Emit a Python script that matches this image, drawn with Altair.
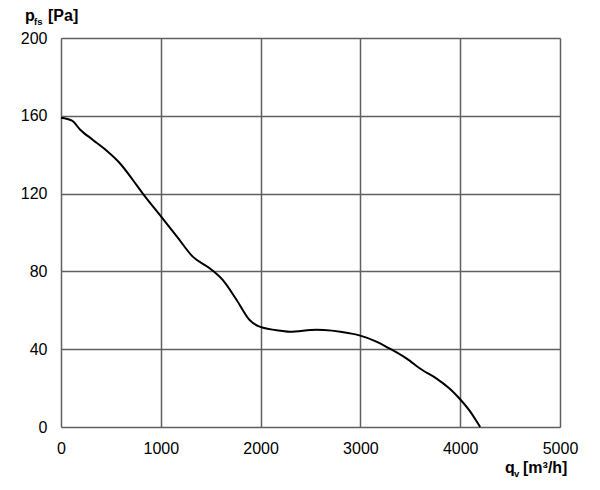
import altair as alt
import pandas as pd

flow = [0, 110, 190, 320, 450, 590, 720, 820, 990, 1160, 1320, 1490, 1620, 1760, 1890, 1990,
        2220, 2290, 2560, 2890, 2990, 3160, 3290, 3460, 3620, 3760, 3890, 3990, 4090, 4200]
pressure = [159, 157.5, 153, 147.6, 142.4, 135.6, 127, 120, 109, 98, 87.6, 81.6, 75.6, 65.3, 55, 51.6,
            49.4, 49, 50, 48.2, 47.1, 43.9, 40.4, 35.3, 29.3, 25, 19.9, 14.8, 8.7, 0]
x_ticks = [0, 1000, 2000, 3000, 4000, 5000]
y_ticks = [0, 40, 80, 120, 160, 200]

df = pd.DataFrame({"q": flow, "p": pressure})
FONT = "Liberation Sans"
GRID = "#5f5f66"

line = alt.Chart(df).mark_line(color="black", strokeWidth=2, interpolate="monotone").encode(
    x=alt.X("q:Q", scale=alt.Scale(domain=[0, 5000], nice=False),
            axis=alt.Axis(values=x_ticks, title=None, grid=True, gridColor=GRID, gridWidth=1.5,
                          domain=False, ticks=False, labelPadding=13, labelFontSize=16,
                          labelFlush=False, labelOverlap=False,
                          labelFont=FONT, labelColor="black", format="d")),
    y=alt.Y("p:Q", scale=alt.Scale(domain=[0, 200], nice=False),
            axis=alt.Axis(values=y_ticks, title=None, grid=True, gridColor=GRID, gridWidth=1.5,
                          domain=False, ticks=False, labelPadding=14, labelFontSize=16,
                          labelFlush=False, labelOverlap=False,
                          labelFont=FONT, labelColor="black")),
)

def txt(s, x, y, size, bold=True):
    return alt.Chart(pd.DataFrame({"t": [s]})).mark_text(
        align="left", baseline="alphabetic", font=FONT, fontSize=size,
        fontWeight="bold" if bold else "normal", color="black"
    ).encode(x=alt.value(x), y=alt.value(y), text="t:N")

labels = [
    txt("p", -36, -17, 16),
    txt("fs", -27, -13, 9.5),
    txt("[Pa]", -13, -17, 16),
    txt("q", 444, 435, 16),
    txt("v", 453, 439, 9.5),
    txt("[m³/h]", 462, 435, 16),
]

chart = alt.layer(line, *labels).properties(
    width=499, height=389,
    padding={"left": 61, "top": 38, "right": 40, "bottom": 63},
    autosize=alt.AutoSizeParams(type="none"),
).configure_view(stroke=GRID, strokeWidth=1.5).configure(background="white")

chart.save("out.html", embed_options={"renderer": "svg", "actions": False})
